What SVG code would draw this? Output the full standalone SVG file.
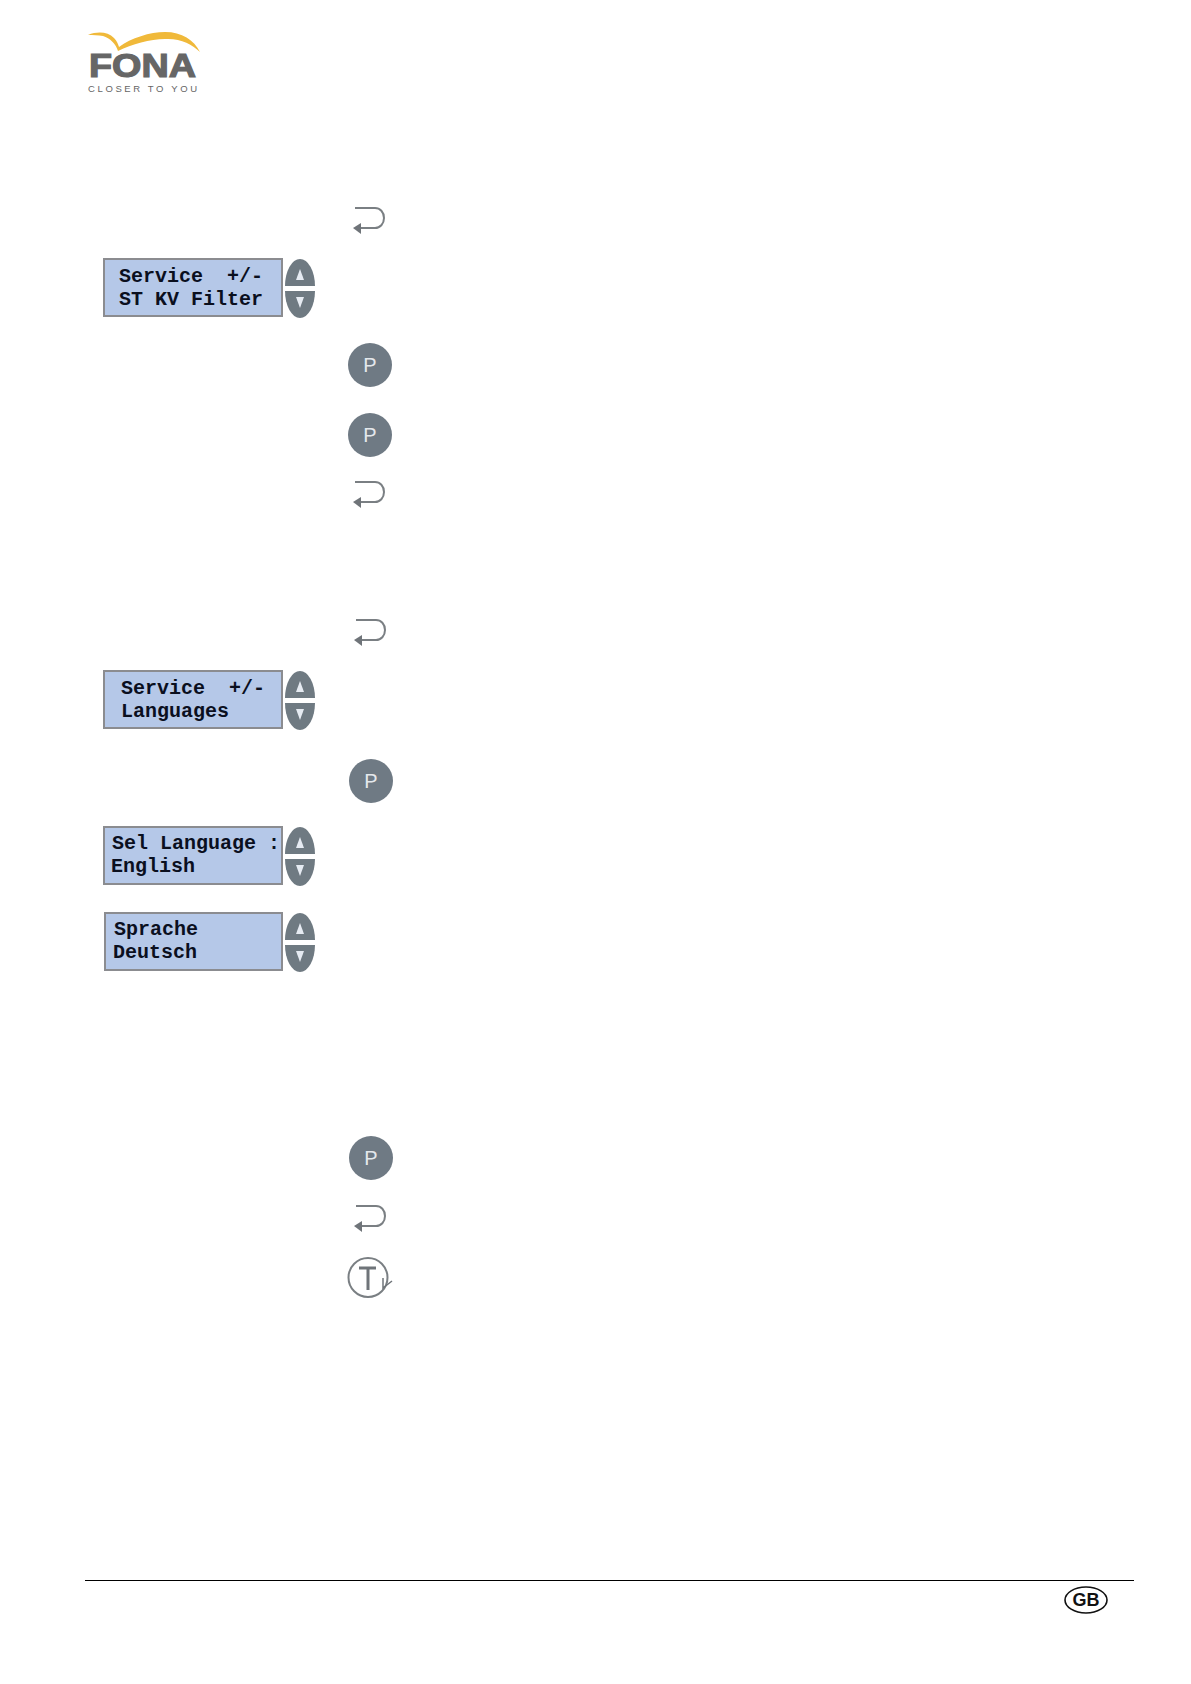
<svg xmlns="http://www.w3.org/2000/svg" width="1191" height="1684" viewBox="0 0 1191 1684">
<style>
.lcd{fill:#b5c8e8;stroke:#8b8c90;stroke-width:2}
.lt{font-family:"Liberation Mono",monospace;font-weight:700;font-size:20px;fill:#0a0f1e;white-space:pre}
.btn{fill:#6f7a82}
.tri{fill:#e6ebf2}
.ret{fill:none;stroke:#7a7f83;stroke-width:2}
.reth{fill:#6f7479}
.pc{fill:#6f7a84}
.pt{font-family:"Liberation Sans",sans-serif;font-size:20px;fill:#e4e8ec;text-anchor:middle}
</style>
<defs>
<g id="updown">
<path class="btn" d="M0 27A15 27 0 0 1 30 27Z"/>
<path class="tri" d="M15 10L19 21H11Z"/>
<path class="btn" d="M0 32H30A15 27 0 0 1 0 32Z"/>
<path class="tri" d="M11 38H19L15 49Z"/>
</g>
<g id="ret">
<path class="ret" d="M0 0H20C25 0 29 4 29 10S25 20 20 20H2"/>
<path class="reth" d="M-2 20L6 15V26Z"/>
</g>
</defs>
<rect width="1191" height="1684" fill="#fff"/>
<g id="logo">
<path d="M88 35C98 31 108 32 114 38C117 41 118 44 119 47C131 38 150 32 165 32C182 32 194 40 200 52C192 44 180 38 165 39C150 39 132 44 118 51C116 44 110 38 103 36C98 35 93 35 88 35Z" fill="#f0b93a"/>
<text x="89" y="76.5" font-family="'Liberation Sans',sans-serif" font-weight="700" font-size="33" fill="#666" stroke="#666" stroke-width="1.2" textLength="107" lengthAdjust="spacingAndGlyphs">FONA</text>
<text x="88" y="91.5" font-family="'Liberation Sans',sans-serif" font-size="9.5" fill="#666" textLength="109">CLOSER TO YOU</text>
</g>
<g id="return-1"><use href="#ret" x="355" y="208"/></g>
<g id="lcd-service-filter">
<rect class="lcd" x="104" y="259" width="178" height="57"/>
<text class="lt" x="119" y="282">Service  +/-</text>
<text class="lt" x="119" y="305">ST KV Filter</text>
<use href="#updown" x="285" y="259"/>
</g>
<g id="p-1"><circle class="pc" cx="370" cy="365" r="22"/><text class="pt" x="370" y="372">P</text></g>
<g id="p-2"><circle class="pc" cx="370" cy="435" r="22"/><text class="pt" x="370" y="442">P</text></g>
<g id="return-2"><use href="#ret" x="355" y="482"/></g>
<g id="return-3"><use href="#ret" x="356" y="620"/></g>
<g id="lcd-service-languages">
<rect class="lcd" x="104" y="671" width="178" height="57"/>
<text class="lt" x="121" y="694">Service  +/-</text>
<text class="lt" x="121" y="717">Languages</text>
<use href="#updown" x="285" y="671"/>
</g>
<g id="p-3"><circle class="pc" cx="371" cy="781" r="22"/><text class="pt" x="371" y="788">P</text></g>
<g id="lcd-sel-language">
<rect class="lcd" x="104" y="827" width="178" height="57"/>
<text class="lt" x="112" y="849">Sel Language :</text>
<text class="lt" x="111" y="872">English</text>
<use href="#updown" x="285" y="827"/>
</g>
<g id="lcd-sprache">
<rect class="lcd" x="105" y="913" width="177" height="57"/>
<text class="lt" x="114" y="935">Sprache</text>
<text class="lt" x="113" y="958">Deutsch</text>
<use href="#updown" x="285" y="913"/>
</g>
<g id="p-4"><circle class="pc" cx="371" cy="1158" r="22"/><text class="pt" x="371" y="1165">P</text></g>
<g id="return-4"><use href="#ret" x="356" y="1206"/></g>
<g id="timer">
<circle cx="368" cy="1277.5" r="19.5" fill="none" stroke="#7a7f83" stroke-width="2"/>
<path d="M359 1268H376M368 1268V1290" fill="none" stroke="#6f7479" stroke-width="3"/>
<path d="M383 1278V1288L392 1281" fill="none" stroke="#6f7479" stroke-width="1.5"/>
</g>
<g id="connectors"></g>
<g id="footer">
<line x1="85" y1="1580.5" x2="1134" y2="1580.5" stroke="#000" stroke-width="1"/>
<ellipse cx="1086" cy="1600" rx="21" ry="13" fill="none" stroke="#111" stroke-width="1.6"/>
<text x="1086" y="1606" text-anchor="middle" font-family="'Liberation Sans',sans-serif" font-weight="700" font-size="18" fill="#111">GB</text>
</g>
</svg>
